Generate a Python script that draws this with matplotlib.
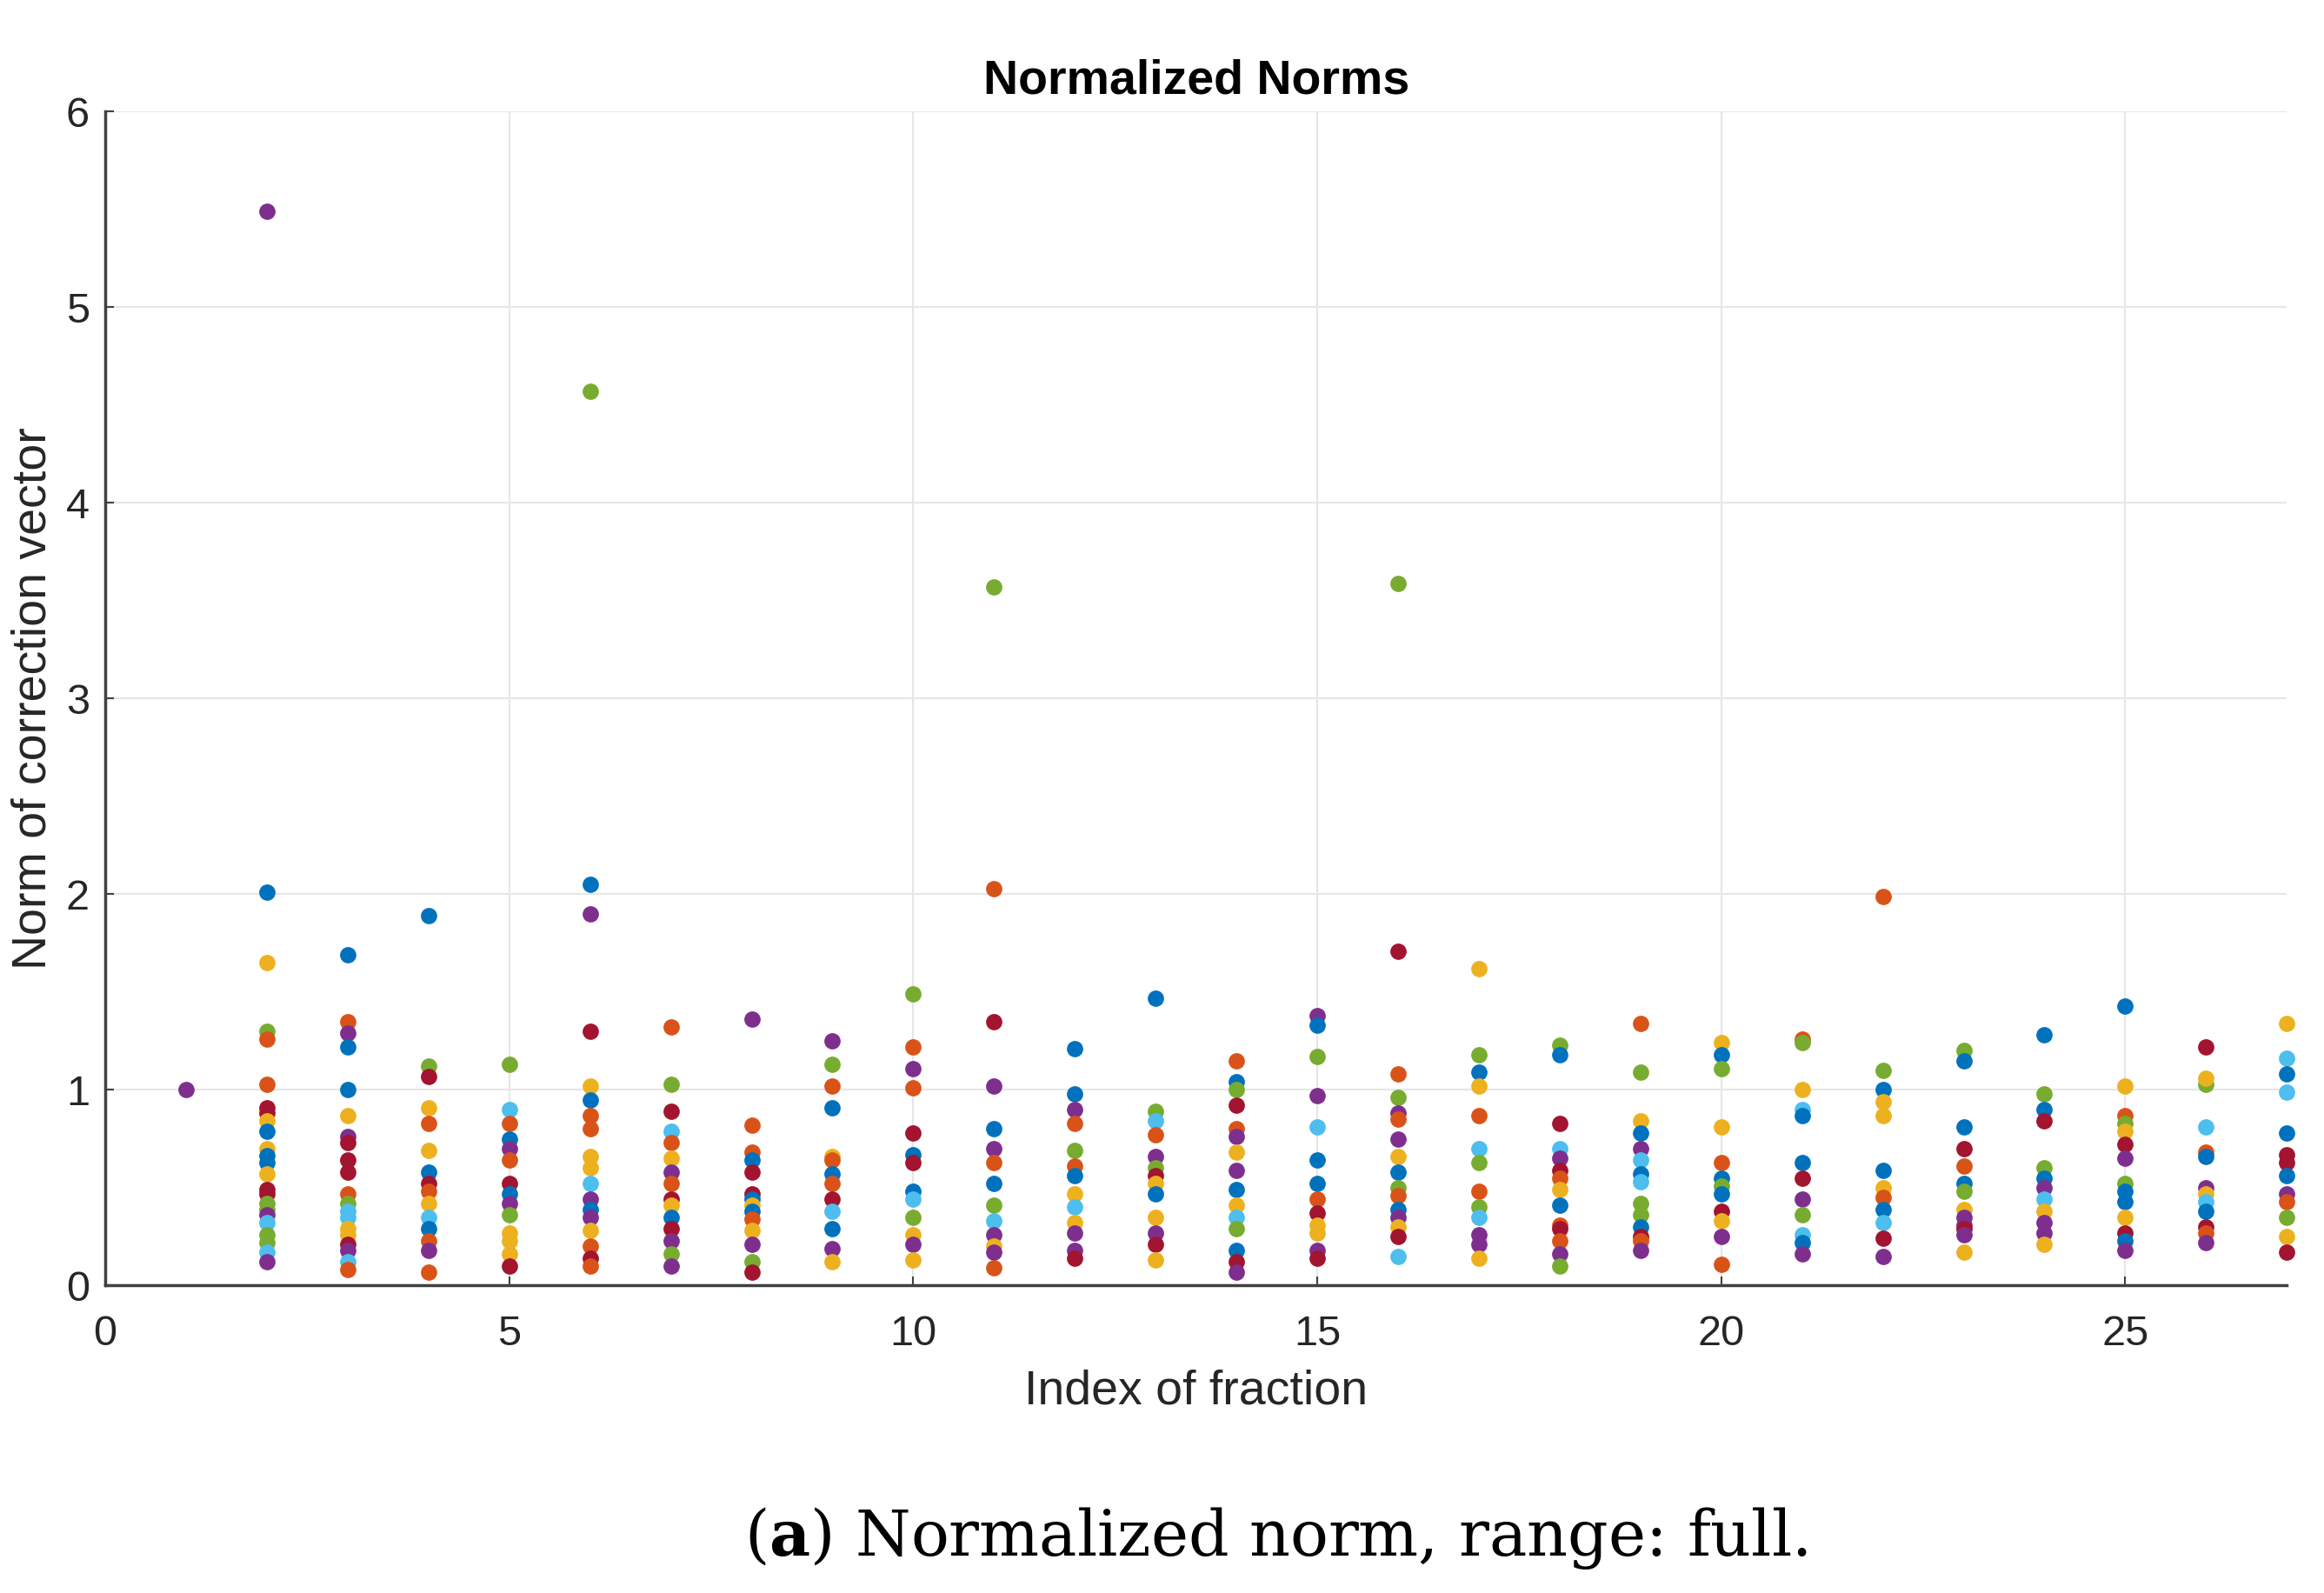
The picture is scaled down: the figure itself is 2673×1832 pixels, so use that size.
import numpy as np
import matplotlib
matplotlib.use("Agg")
import matplotlib.pyplot as plt

# MATLAB default colour order, one letter per series colour
PALETTE = {
    'b': '#0072BD',
    'o': '#D95319',
    'y': '#EDB120',
    'p': '#7E2F8E',
    'g': '#77AC30',
    'c': '#4DBEEE',
    'r': '#A2142F',
}

# normalized norm values per fraction index (1..27)
norm_values = [
    [1.00],
    [5.49, 2.01, 1.65, 1.30, 1.26, 1.03, 0.91, 0.88, 0.84, 0.79, 0.70, 0.665,
     0.63, 0.57, 0.49, 0.47, 0.42, 0.39, 0.36, 0.32, 0.26, 0.22, 0.17, 0.12],
    [1.69, 1.35, 1.29, 1.22, 1.00, 0.87, 0.76, 0.73, 0.64, 0.58, 0.47, 0.42,
     0.38, 0.35, 0.29, 0.26, 0.21, 0.18, 0.12, 0.08],
    [1.89, 1.12, 1.07, 0.91, 0.83, 0.69, 0.58, 0.52, 0.48, 0.42, 0.35, 0.29,
     0.23, 0.18, 0.07],
    [1.13, 0.90, 0.83, 0.75, 0.70, 0.64, 0.52, 0.47, 0.42, 0.36, 0.27, 0.23,
     0.16, 0.10],
    [4.57, 2.05, 1.90, 1.30, 1.02, 0.95, 0.87, 0.80, 0.66, 0.60, 0.52, 0.44,
     0.39, 0.35, 0.28, 0.20, 0.14, 0.10],
    [1.32, 1.03, 0.89, 0.79, 0.73, 0.65, 0.58, 0.52, 0.44, 0.41, 0.35, 0.29,
     0.23, 0.16, 0.10],
    [1.36, 0.82, 0.68, 0.64, 0.58, 0.47, 0.44, 0.41, 0.38, 0.34, 0.28, 0.21,
     0.12, 0.07],
    [1.25, 1.13, 1.02, 0.91, 0.66, 0.64, 0.57, 0.52, 0.44, 0.38, 0.29, 0.19,
     0.12],
    [1.49, 1.22, 1.11, 1.01, 0.78, 0.67, 0.63, 0.48, 0.44, 0.35, 0.26, 0.21,
     0.13],
    [3.57, 2.03, 1.35, 1.02, 0.80, 0.70, 0.63, 0.52, 0.41, 0.33, 0.26, 0.20,
     0.17, 0.09],
    [1.21, 0.98, 0.90, 0.83, 0.69, 0.61, 0.56, 0.47, 0.40, 0.32, 0.27, 0.18,
     0.14],
    [1.47, 0.89, 0.84, 0.77, 0.66, 0.60, 0.56, 0.52, 0.47, 0.35, 0.27, 0.21,
     0.13],
    [1.15, 1.04, 1.00, 0.92, 0.80, 0.76, 0.68, 0.59, 0.49, 0.41, 0.35, 0.29,
     0.18, 0.12, 0.07],
    [1.38, 1.33, 1.17, 0.97, 0.81, 0.64, 0.52, 0.44, 0.37, 0.31, 0.27, 0.18,
     0.14],
    [3.59, 1.71, 1.08, 0.96, 0.88, 0.85, 0.75, 0.66, 0.58, 0.50, 0.46, 0.39,
     0.35, 0.30, 0.25, 0.15],
    [1.62, 1.18, 1.09, 1.02, 0.87, 0.70, 0.63, 0.48, 0.40, 0.35, 0.26, 0.21,
     0.14],
    [1.23, 1.18, 0.83, 0.70, 0.65, 0.59, 0.55, 0.49, 0.41, 0.31, 0.29, 0.23,
     0.16, 0.10],
    [1.34, 1.09, 0.84, 0.78, 0.70, 0.64, 0.57, 0.53, 0.42, 0.36, 0.30, 0.25,
     0.23, 0.18],
    [1.24, 1.18, 1.11, 0.81, 0.63, 0.55, 0.51, 0.47, 0.38, 0.33, 0.25, 0.11],
    [1.26, 1.24, 1.00, 0.90, 0.87, 0.63, 0.55, 0.44, 0.36, 0.26, 0.22, 0.16],
    [1.99, 1.10, 1.00, 0.94, 0.87, 0.59, 0.50, 0.45, 0.39, 0.32, 0.24, 0.15],
    [1.20, 1.15, 0.81, 0.70, 0.61, 0.52, 0.48, 0.39, 0.35, 0.31, 0.29, 0.26,
     0.17],
    [1.28, 0.98, 0.90, 0.84, 0.60, 0.55, 0.50, 0.44, 0.38, 0.32, 0.27, 0.21],
    [1.43, 1.02, 0.87, 0.83, 0.79, 0.72, 0.65, 0.52, 0.48, 0.43, 0.35, 0.27,
     0.23, 0.18],
    [1.22, 1.03, 1.06, 0.81, 0.68, 0.66, 0.50, 0.47, 0.43, 0.38, 0.30, 0.27,
     0.22],
    [1.34, 1.16, 1.08, 0.99, 0.78, 0.67, 0.63, 0.56, 0.47, 0.43, 0.35, 0.25,
     0.17],
]

# colour letter of each point above, same order
series_codes = [
    "p",
    "pbygoorrybybbyrrggpcggcp",
    "bopbbyprrrogccyyrpco",
    "bgryoybroycbopo",
    "gcobporbpgyyyr",
    "gbprybooyycpbpyoro",
    "ogrcoyporybrpgp",
    "poobrrbyboypgr",
    "pgobyoborcbpy",
    "goporbrbcgypy",
    "gorpbpobgcpypo",
    "bbpogobycyppr",
    "bgcopgrybypry",
    "obgropypbycgbrp",
    "pbgpcbboryypr",
    "grogpopybgobpyrc",
    "ygbyocgogcppy",
    "gbrcproyboropg",
    "ogybpcbcggbrop",
    "ybgyobgbrypo",
    "ogycbbrpgcbp",
    "ogbyybyobcrp",
    "gbbrobgypprpy",
    "bgbrgbpcyppy",
    "byogyrpgbbyrbp",
    "rgycobpycbrop",
    "ycbcbrrbpogyr",
]

x_ticks = [0, 5, 10, 15, 20, 25]
y_ticks = [0, 1, 2, 3, 4, 5, 6]

plt.rcParams['font.family'] = ['Liberation Sans', 'DejaVu Sans']
plt.rcParams['mathtext.fontset'] = 'custom'
plt.rcParams['mathtext.rm'] = 'DejaVu Serif'
plt.rcParams['mathtext.bf'] = 'DejaVu Serif:bold'

AX_COLOR = '#404040'
TXT_COLOR = '#262626'

fig = plt.figure(figsize=(26.73, 18.32), dpi=100)
ax = fig.add_axes([0.0453, 0.193, 0.9387, 0.737])

for i, (vals, codes) in enumerate(zip(norm_values, series_codes)):
    frac = i + 1
    for v, c in zip(vals, codes):
        ax.plot(frac, v, 'o', color=PALETTE[c], markersize=13.5,
                markeredgewidth=0, clip_on=False, zorder=3)

ax.set_xlim(0, 27)
ax.set_ylim(0, 6)
ax.set_xticks(x_ticks)
ax.set_yticks(y_ticks)
ax.grid(True, color='#e6e6e6', linewidth=1.5, zorder=0)
ax.set_axisbelow(True)

for side in ['top', 'right']:
    ax.spines[side].set_visible(False)
for side in ['left', 'bottom']:
    ax.spines[side].set_color(AX_COLOR)
    ax.spines[side].set_linewidth(2.5)

ax.tick_params(axis='both', direction='in', length=7, width=1.5,
               color=AX_COLOR, labelcolor=TXT_COLOR, labelsize=35)
ax.tick_params(axis='x', pad=24)
ax.tick_params(axis='y', pad=13)

ax.set_title("Normalized Norms", fontsize=40, fontweight='bold', pad=15)
ax.set_xlabel("Index of fraction", fontsize=40, color=TXT_COLOR, labelpad=13)
ax.set_ylabel("Norm of correction vector", fontsize=40, color=TXT_COLOR,
              labelpad=8)

fig.text(0.549, 1 - 1789 / 1832, r"($\mathbf{a}$) Normalized norm, range: full.",
         family='DejaVu Serif', fontsize=52.5, ha='center', va='baseline',
         color='black')

fig.savefig("out.png", dpi=100)
